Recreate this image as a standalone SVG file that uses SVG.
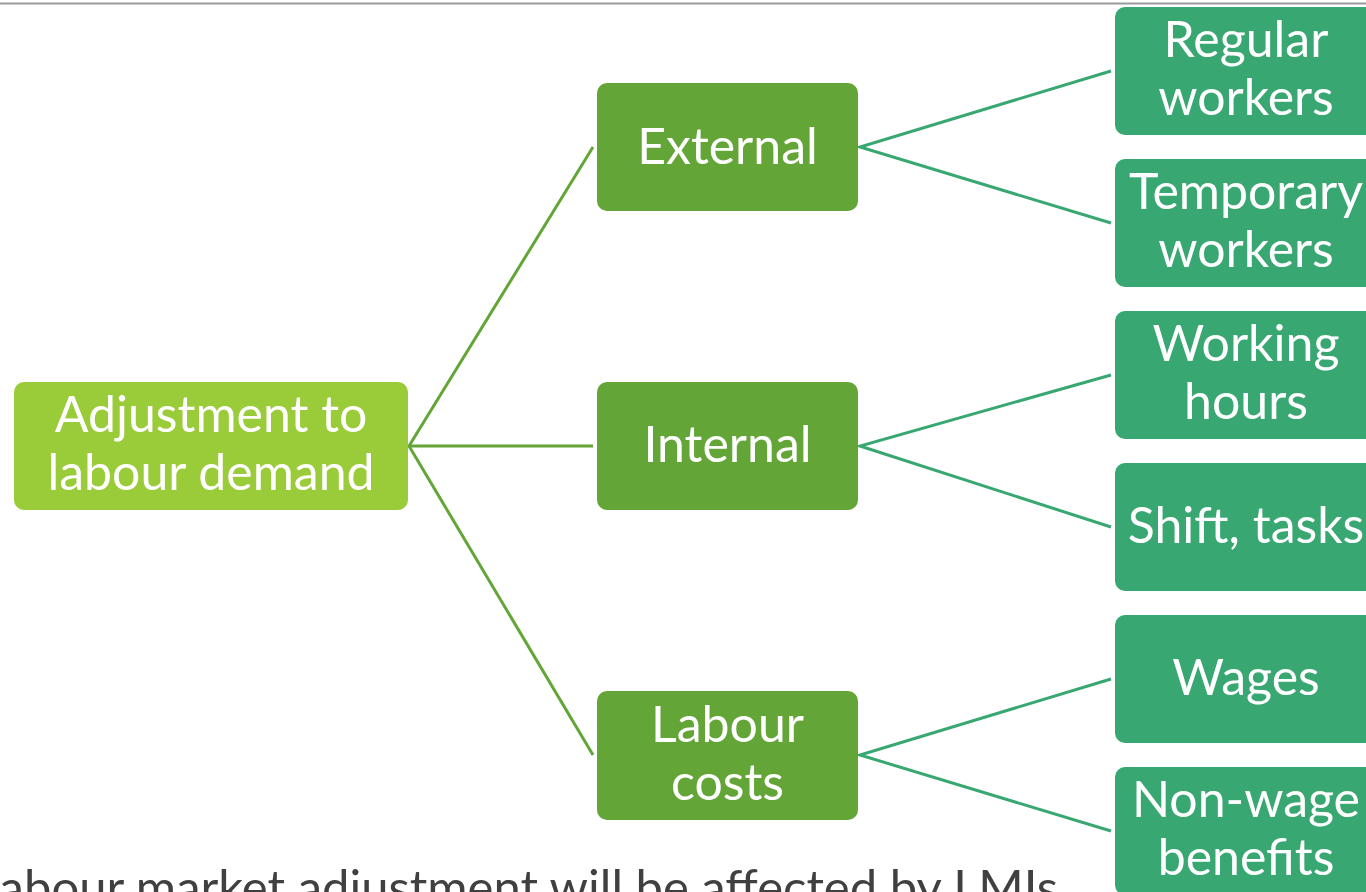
<svg xmlns="http://www.w3.org/2000/svg" width="1366" height="892" viewBox="0 0 1366 892">
  <style>
    .lbl { font-family: Lato, "Noto Sans", "Liberation Sans", sans-serif; font-size: 50px; fill: #ffffff; text-anchor: middle; }
    .root { fill: #9ACB38; }
    .mid { fill: #63A537; }
    .leaf { fill: #38A771; }
    .c1 { stroke: #63A537; stroke-width: 3; fill: none; }
    .c2 { stroke: #38A771; stroke-width: 3; fill: none; }
    .note { font-family: Lato, "Noto Sans", "Liberation Sans", sans-serif; font-size: 49px; fill: #404040; text-anchor: end; }
  </style>
  <rect width="1366" height="892" fill="#ffffff"/>
  <!-- header rule -->
  <line x1="0" y1="3.5" x2="1366" y2="3.5" stroke="#9a9a9a" stroke-width="2"/>

  <!-- caption running off the bottom edge -->
  <text class="note" x="1058" y="905">Labour market adjustment will be affected by LMIs</text>

  <g id="connectors">
    <polyline class="c1" points="593,147 409,446 593,446"/>
    <line class="c1" x1="409" y1="446" x2="593" y2="755"/>
    <polyline class="c2" points="1111,71 860,147 1111,223"/>
    <polyline class="c2" points="1111,375 860,446 1111,527"/>
    <polyline class="c2" points="1111,679 860,755 1111,831"/>
  </g>

  <g id="n-root">
    <rect class="root" x="14" y="382" width="394" height="128" rx="10"/>
    <text class="lbl" x="211" y="432">Adjustment to</text>
    <text class="lbl" x="211" y="490">labour demand</text>
  </g>

  <g id="n-external">
    <rect class="mid" x="597" y="83" width="261" height="128" rx="10"/>
    <text class="lbl" x="727.5" y="164">External</text>
  </g>
  <g id="n-internal">
    <rect class="mid" x="597" y="382" width="261" height="128" rx="10"/>
    <text class="lbl" x="727.5" y="462">Internal</text>
  </g>
  <g id="n-labour-costs">
    <rect class="mid" x="597" y="691" width="261" height="129" rx="10"/>
    <text class="lbl" x="727.5" y="742">Labour</text>
    <text class="lbl" x="727.5" y="800">costs</text>
  </g>

  <g id="n-regular">
    <rect class="leaf" x="1115" y="7" width="262" height="128" rx="10"/>
    <text class="lbl" x="1246" y="57">Regular</text>
    <text class="lbl" x="1246" y="115">workers</text>
  </g>
  <g id="n-temporary">
    <rect class="leaf" x="1115" y="159" width="262" height="128" rx="10"/>
    <text class="lbl" x="1246" y="209">Temporary</text>
    <text class="lbl" x="1246" y="267">workers</text>
  </g>
  <g id="n-hours">
    <rect class="leaf" x="1115" y="311" width="262" height="128" rx="10"/>
    <text class="lbl" x="1246" y="361">Working</text>
    <text class="lbl" x="1246" y="419">hours</text>
  </g>
  <g id="n-shift">
    <rect class="leaf" x="1115" y="463" width="262" height="128" rx="10"/>
    <text class="lbl" x="1246" y="543">Shift, tasks</text>
  </g>
  <g id="n-wages">
    <rect class="leaf" x="1115" y="615" width="262" height="128" rx="10"/>
    <text class="lbl" x="1246" y="695">Wages</text>
  </g>
  <g id="n-nonwage">
    <rect class="leaf" x="1115" y="767" width="262" height="128" rx="10"/>
    <text class="lbl" x="1246" y="817">Non-wage</text>
    <text class="lbl" x="1246" y="875">benefits</text>
  </g>
</svg>
